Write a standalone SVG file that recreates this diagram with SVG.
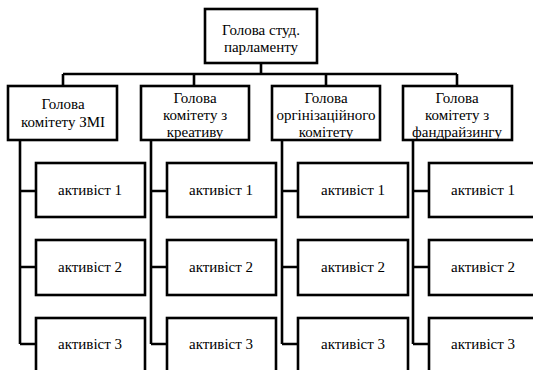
<svg xmlns="http://www.w3.org/2000/svg" width="533" height="370" viewBox="0 0 533 370">
<style>
.box{fill:#fff;stroke:#000;stroke-width:2.6}
.ln{fill:none;stroke:#000;stroke-width:2.6}
</style>
<rect width="533" height="370" fill="#fff"/>
<g id="connectors">
<path class="ln" d="M261 63V74M63 74H457M63 74V86M194 74V86M326 74V86M457 74V86"/>
<path class="ln" d="M20 140V344M20 191H36M20 267H36M20 344H36"/>
<path class="ln" d="M151 140V344M151 191H167M151 267H167M151 344H167"/>
<path class="ln" d="M282 140V344M282 191H298M282 267H298M282 344H298"/>
<path class="ln" d="M413 140V344M413 191H429M413 267H429M413 344H429"/>
</g>
<g font-family="Liberation Serif, serif" font-size="15" text-anchor="middle" fill="#000">
<g id="head"><rect class="box" x="205" y="9" width="112" height="54"/><text x="261" y="35">Голова студ.</text><text x="261" y="52">парламенту</text></g>
<g id="c1"><rect class="box" x="8" y="86" width="109" height="54"/><text x="63" y="109">Голова</text><text x="63" y="127">комітету ЗМІ</text></g>
<g id="c2"><rect class="box" x="141" y="86" width="108" height="54"/><text x="195" y="103">Голова</text><text x="195" y="120">комітету з</text><text x="195" y="137">креативу</text></g>
<g id="c3"><rect class="box" x="272" y="86" width="108" height="54"/><text x="326" y="103">Голова</text><text x="326" y="120">оргінізаційного</text><text x="326" y="137">комітету</text></g>
<g id="c4"><rect class="box" x="403" y="86" width="109" height="54"/><text x="457" y="103">Голова</text><text x="457" y="120">комітету з</text><text x="457" y="137">фандрайзингу</text></g>
<g id="a11"><rect class="box" x="36" y="163" width="109" height="54"/><text x="90" y="195">активіст 1</text></g>
<g id="a12"><rect class="box" x="36" y="240" width="109" height="55"/><text x="90" y="272">активіст 2</text></g>
<g id="a13"><rect class="box" x="36" y="318" width="109" height="60"/><text x="90" y="349">активіст 3</text></g>
<g id="a21"><rect class="box" x="167" y="163" width="109" height="54"/><text x="221" y="195">активіст 1</text></g>
<g id="a22"><rect class="box" x="167" y="240" width="109" height="55"/><text x="221" y="272">активіст 2</text></g>
<g id="a23"><rect class="box" x="167" y="318" width="109" height="60"/><text x="221" y="349">активіст 3</text></g>
<g id="a31"><rect class="box" x="298" y="163" width="110" height="54"/><text x="353" y="195">активіст 1</text></g>
<g id="a32"><rect class="box" x="298" y="240" width="110" height="55"/><text x="353" y="272">активіст 2</text></g>
<g id="a33"><rect class="box" x="298" y="318" width="110" height="60"/><text x="353" y="349">активіст 3</text></g>
<g id="a41"><rect class="box" x="429" y="163" width="109" height="54"/><text x="483" y="195">активіст 1</text></g>
<g id="a42"><rect class="box" x="429" y="240" width="109" height="55"/><text x="483" y="272">активіст 2</text></g>
<g id="a43"><rect class="box" x="429" y="318" width="109" height="60"/><text x="483" y="349">активіст 3</text></g>
</g>
</svg>
